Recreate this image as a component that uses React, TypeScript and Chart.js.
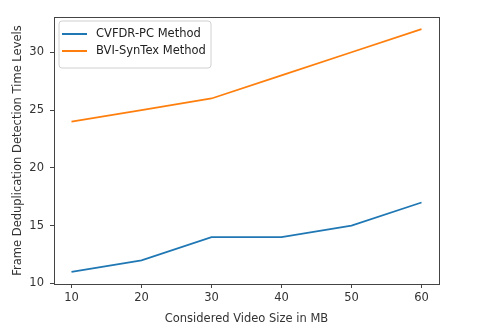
import React, { useEffect, useRef } from "react";
import { Chart, registerables } from "chart.js";

Chart.register(...registerables);

const videoSizes = [10, 20, 30, 40, 50, 60];
const cvfdrValues = [11, 12, 14, 14, 15, 17];
const bviValues = [24, 25, 26, 28, 30, 32];
const xTicks = [10, 20, 30, 40, 50, 60];
const yTicks = [10, 15, 20, 25, 30];
const seriesLabels = ["CVFDR-PC Method", "BVI-SynTex Method"];
const seriesColors = ["#1f77b4", "#ff7f0e"];

const FONT = "'DejaVu Sans', sans-serif";
const FS = 11.5;

const framePlugin = {
  id: "frame",
  afterDraw(chart: any) {
    const { ctx, chartArea } = chart;
    ctx.save();
    ctx.strokeStyle = "#444";
    ctx.lineWidth = 1;
    ctx.strokeRect(
      Math.round(chartArea.left) + 0.5,
      Math.round(chartArea.top) + 0.5,
      Math.round(chartArea.right - chartArea.left),
      Math.round(chartArea.bottom - chartArea.top)
    );
    ctx.restore();
  },
};

const legendPlugin = {
  id: "insideLegend",
  afterDraw(chart: any) {
    const { ctx, chartArea } = chart;
    const x = chartArea.left + 5;
    const y = chartArea.top + 4;
    const w = 152;
    const h = 47;
    ctx.save();
    ctx.fillStyle = "rgba(255,255,255,0.8)";
    ctx.strokeStyle = "#d0d0d0";
    ctx.lineWidth = 1;
    const r = 3;
    ctx.beginPath();
    ctx.moveTo(x + r, y);
    ctx.lineTo(x + w - r, y);
    ctx.quadraticCurveTo(x + w, y, x + w, y + r);
    ctx.lineTo(x + w, y + h - r);
    ctx.quadraticCurveTo(x + w, y + h, x + w - r, y + h);
    ctx.lineTo(x + r, y + h);
    ctx.quadraticCurveTo(x, y + h, x, y + h - r);
    ctx.lineTo(x, y + r);
    ctx.quadraticCurveTo(x, y, x + r, y);
    ctx.closePath();
    ctx.fill();
    ctx.stroke();
    ctx.font = `${FS}px ${FONT}`;
    ctx.textBaseline = "middle";
    chart.data.datasets.forEach((ds: any, i: number) => {
      const ly = y + 13 + i * 17;
      ctx.strokeStyle = ds.borderColor;
      ctx.lineWidth = 2;
      ctx.beginPath();
      ctx.moveTo(x + 3, ly);
      ctx.lineTo(x + 28, ly);
      ctx.stroke();
      ctx.fillStyle = "#222";
      ctx.fillText(ds.label, x + 37, ly);
    });
    ctx.restore();
  },
};

export default function App() {
  const ref = useRef<HTMLCanvasElement>(null);
  useEffect(() => {
    if (!ref.current) return;
    const chart = new Chart(ref.current, {
      type: "line",
      data: {
        datasets: [
          {
            label: seriesLabels[0],
            data: videoSizes.map((x, i) => ({ x, y: cvfdrValues[i] })),
            borderColor: seriesColors[0],
            backgroundColor: seriesColors[0],
            borderWidth: 1.8,
            pointRadius: 0,
            tension: 0,
          },
          {
            label: seriesLabels[1],
            data: videoSizes.map((x, i) => ({ x, y: bviValues[i] })),
            borderColor: seriesColors[1],
            backgroundColor: seriesColors[1],
            borderWidth: 1.8,
            pointRadius: 0,
            tension: 0,
          },
        ],
      },
      options: {
        animation: false,
        responsive: false,
        maintainAspectRatio: false,
        layout: { padding: { left: 11, top: 17, right: 41, bottom: 8.5 } },
        plugins: { legend: { display: false }, tooltip: { enabled: false } },
        scales: {
          x: {
            type: "linear",
            min: 7.5,
            max: 62.5,
            afterBuildTicks: (axis: any) => {
              axis.ticks = xTicks.map((v) => ({ value: v }));
            },
            afterFit: (axis: any) => {
              axis.height = 41.5;
            },
            grid: {
              display: true,
              drawOnChartArea: false,
              drawTicks: true,
              tickLength: 4,
              color: "#444",
            },
            border: { display: true, color: "#444" },
            ticks: {
              color: "#333",
              font: { family: FONT, size: FS },
              padding: 3,
              maxRotation: 0,
            },
            title: {
              display: true,
              text: "Considered Video Size in MB",
              color: "#333",
              font: { family: FONT, size: FS },
              padding: 0,
            },
          },
          y: {
            type: "linear",
            min: 9.95,
            max: 33.05,
            afterBuildTicks: (axis: any) => {
              axis.ticks = yTicks.map((v) => ({ value: v }));
            },
            afterFit: (axis: any) => {
              axis.width = 43;
            },
            grid: {
              display: true,
              drawOnChartArea: false,
              drawTicks: true,
              tickLength: 4,
              color: "#444",
            },
            border: { display: true, color: "#444" },
            ticks: {
              color: "#333",
              font: { family: FONT, size: FS },
              padding: 6,
            },
            title: {
              display: true,
              text: "Frame Deduplication Detection Time Levels",
              color: "#333",
              font: { family: FONT, size: FS },
              padding: 0,
            },
          },
        },
      },
      plugins: [framePlugin, legendPlugin],
    });
    return () => chart.destroy();
  }, []);
  return (
    <div style={{ position: "fixed", left: 0, top: 0, width: 480, height: 334, background: "#fff" }}>
      <canvas ref={ref} width={480} height={334} style={{ width: 480, height: 334 }} />
    </div>
  );
}
